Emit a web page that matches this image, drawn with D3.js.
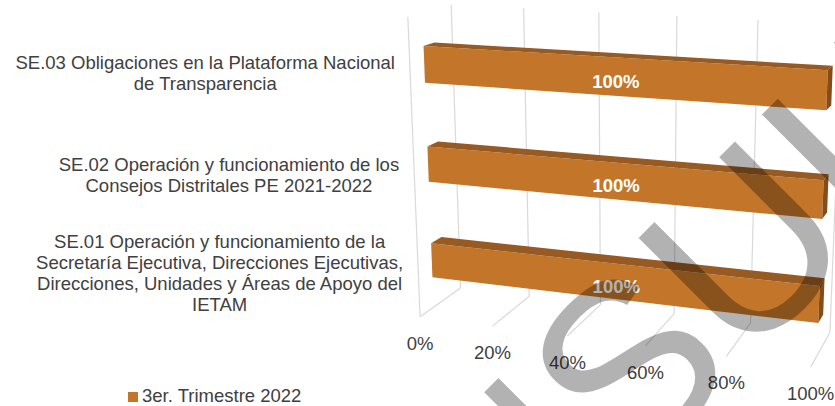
<!DOCTYPE html>
<html>
<head>
<meta charset="utf-8">
<script src="https://cdn.jsdelivr.net/npm/d3@7"></script>
<style>
body { margin: 0; background: #fff; }
text { font-family: "Liberation Sans", Arial, sans-serif; }
</style>
</head>
<body>
<div id="plot"></div>
<script>
var width = 835;
var height = 406;

// Data (bottom to top)
var categories = ["SE.01", "SE.02", "SE.03"];
var categoryLines = [
    ["SE.01 Operación y funcionamiento de la", "Secretaría Ejecutiva, Direcciones Ejecutivas,", "Direcciones, Unidades y Áreas de Apoyo del", "IETAM"],
    ["SE.02 Operación y funcionamiento de los", "Consejos Distritales PE 2021-2022"],
    ["SE.03 Obligaciones en la Plataforma Nacional", "de Transparencia"]
];
var values = [1, 1, 1];
var ticks = [0, 0.2, 0.4, 0.6, 0.8, 1];
var tickLabels = ["0%", "20%", "40%", "60%", "80%", "100%"];
var seriesName = "3er. Trimestre 2022";
var watermark = "CONSULTA";

var BAR_FRONT = "#c37629";
var BAR_TOP = "#975a22";
var BAR_SIDE = "#834c1b";
var GRID = "#d9d9d9";
var TEXT = "#404040";
var FONT = 18.5;

// depth of the bars inside the box (0 = back wall, 1 = front)
var Z_BACK = 0.43;
var Z_FRONT = 0.68;

// Where the corners of the 3D box land on screen: [x, y, z] -> [px, py]
var view = [
    [[0, 0, 0], [460, 290]],
    [[1, 0, 0], [830, 330]],
    [[0, 1, 0], [451, 5]],
    [[0.8, 1, 0], [758, 20]],
    [[0.4, 0, 0], [601, 305]],
    [[0, 0, 1], [420, 315]],
    [[1, 0, 1], [810, 370]],
    [[0.4, 0, 1], [568, 335]],
    [[0, 1, 1], [408, 17]]
];

var svg = d3.select("#plot").append("svg")
    .attr("width", width)
    .attr("height", height);

var scaleX = d3.scaleLinear().domain([0, 1]).range([0, 1]);
var scaleY = d3.scaleBand().domain(categories).range([0, 1])
    .paddingInner(0.64).paddingOuter(0.32);

var P = fitView(view);

/*
 PROJECTION
 --------------------- */

// Least squares fit of a 3x4 projection matrix (DLT)
function fitView(pairs) {
    var n = 11, M = [], r = [], i, j, k;
    for (i = 0; i < n; i++) { M.push(new Array(n).fill(0)); r.push(0); }
    pairs.forEach(function(p) {
        var X = p[0][0], Y = p[0][1], Z = p[0][2];
        var u = (p[1][0] - 600) / 200, v = (p[1][1] - 200) / 200;
        var rows = [
            [X, Y, Z, 1, 0, 0, 0, 0, -u * X, -u * Y, -u * Z, u],
            [0, 0, 0, 0, X, Y, Z, 1, -v * X, -v * Y, -v * Z, v]
        ];
        rows.forEach(function(row) {
            for (i = 0; i < n; i++) {
                for (j = 0; j < n; j++) M[i][j] += row[i] * row[j];
                r[i] += row[i] * row[11];
            }
        });
    });
    for (var c = 0; c < n; c++) {
        var piv = c;
        for (k = c + 1; k < n; k++) if (Math.abs(M[k][c]) > Math.abs(M[piv][c])) piv = k;
        var t = M[c]; M[c] = M[piv]; M[piv] = t;
        t = r[c]; r[c] = r[piv]; r[piv] = t;
        for (k = c + 1; k < n; k++) {
            var f = M[k][c] / M[c][c];
            for (j = c; j < n; j++) M[k][j] -= f * M[c][j];
            r[k] -= f * r[c];
        }
    }
    var p = new Array(n).fill(0);
    for (i = n - 1; i >= 0; i--) {
        var s = r[i];
        for (j = i + 1; j < n; j++) s -= M[i][j] * p[j];
        p[i] = s / M[i][i];
    }
    return p;
}

function project(x, y, z) {
    var w = P[8] * x + P[9] * y + P[10] * z + 1;
    var u = (P[0] * x + P[1] * y + P[2] * z + P[3]) / w;
    var v = (P[4] * x + P[5] * y + P[6] * z + P[7]) / w;
    return [u * 200 + 600, v * 200 + 200];
}

function poly(pts) {
    return "M" + pts.map(function(p) { return project(p[0], p[1], p[2]).join(","); }).join("L") + "Z";
}

function seg(a, b) {
    return "M" + project(a[0], a[1], a[2]).join(",") + "L" + project(b[0], b[1], b[2]).join(",");
}

/*
 GRID
 --------------------- */

var grid = svg.append("g")
    .attr("fill", "none")
    .attr("stroke", GRID)
    .attr("stroke-width", 1.2);

ticks.forEach(function(t) {
    var x = scaleX(t);
    // back wall
    grid.append("path").attr("d", seg([x, 0, 0], [x, 1, 0]));
    // floor
    grid.append("path").attr("d", seg([x, 0, 0], [x, 0, 1]));
});

// side wall front edge
grid.append("path").attr("d", seg([0, 0, 1], [0, 1, 1]));

// tick labels
svg.append("g").selectAll("text")
    .data(ticks)
    .enter().append("text")
    .attr("x", function(d) { return project(scaleX(d), 0, 1)[0]; })
    .attr("y", function(d) { return project(scaleX(d), 0, 1)[1] + 33; })
    .attr("text-anchor", "middle")
    .attr("font-size", FONT)
    .attr("fill", TEXT)
    .text(function(d, i) { return tickLabels[i]; });

/*
 BARS
 --------------------- */

var bars = svg.append("g").selectAll("g.bar")
    .data(categories)
    .enter().append("g")
    .attr("class", "bar");

function barBox(d, i) {
    var y0 = scaleY(d), y1 = y0 + scaleY.bandwidth();
    return { x0: scaleX(0), x1: scaleX(values[i]), y0: y0, y1: y1 };
}

bars.append("path")
    .attr("fill", BAR_FRONT)
    .attr("d", function(d, i) {
        var b = barBox(d, i);
        return poly([[b.x0, b.y0, Z_FRONT], [b.x1, b.y0, Z_FRONT], [b.x1, b.y1, Z_FRONT], [b.x0, b.y1, Z_FRONT]]);
    });

bars.append("path")
    .attr("fill", BAR_TOP)
    .attr("d", function(d, i) {
        var b = barBox(d, i);
        return poly([[b.x0, b.y1, Z_FRONT], [b.x1, b.y1, Z_FRONT], [b.x1, b.y1, Z_BACK], [b.x0, b.y1, Z_BACK]]);
    });

bars.append("path")
    .attr("fill", BAR_SIDE)
    .attr("d", function(d, i) {
        var b = barBox(d, i);
        return poly([[b.x1, b.y0, Z_FRONT], [b.x1, b.y0, Z_BACK], [b.x1, b.y1, Z_BACK], [b.x1, b.y1, Z_FRONT]]);
    });

// value labels
bars.append("text")
    .attr("x", function(d, i) {
        var b = barBox(d, i);
        return project((b.x0 + b.x1) / 2, (b.y0 + b.y1) / 2, Z_FRONT)[0];
    })
    .attr("y", function(d, i) {
        var b = barBox(d, i);
        return project((b.x0 + b.x1) / 2, (b.y0 + b.y1) / 2, Z_FRONT)[1];
    })
    .attr("dy", "0.6em")
    .attr("text-anchor", "middle")
    .attr("font-size", FONT)
    .attr("font-weight", "bold")
    .attr("fill", "#fff")
    .text(function(d, i) { return d3.format(".0%")(values[i]); });

/*
 CATEGORY LABELS
 --------------------- */

categories.forEach(function(c, i) {
    var anchor = project(0, scaleY(c) + scaleY.bandwidth() / 2, 1);
    var lines = categoryLines[i];
    var g = svg.append("g");
    var texts = g.selectAll("text")
        .data(lines)
        .enter().append("text")
        .attr("font-size", FONT)
        .attr("fill", TEXT)
        .attr("text-anchor", "middle")
        .text(function(d) { return d; });
    var blockWidth = d3.max(texts.nodes(), function(n) { return n.getComputedTextLength(); });
    var lineH = 21;
    var top = anchor[1] + 6 - lines.length * lineH / 2;
    texts
        .attr("x", anchor[0] - 15 - blockWidth / 2)
        .attr("y", function(d, j) { return top + j * lineH + 15; });
});

/*
 LEGEND
 --------------------- */

var legend = svg.append("g").attr("transform", translate(128, 392));
legend.append("rect")
    .attr("width", 10)
    .attr("height", 10)
    .attr("fill", BAR_FRONT);
legend.append("text")
    .attr("x", 14)
    .attr("y", 10)
    .attr("font-size", FONT)
    .attr("fill", TEXT)
    .text(seriesName);

// watermark
svg.append("text")
    .attr("transform", translate(252, 858) + " rotate(-45)")
    .attr("font-size", 240)
    .attr("fill", "#000")
    .attr("fill-opacity", 0.3)
    .text(watermark);

function translate(x, y) {
    return "translate(" + x + "," + y + ")";
}
</script>
</body>
</html>
